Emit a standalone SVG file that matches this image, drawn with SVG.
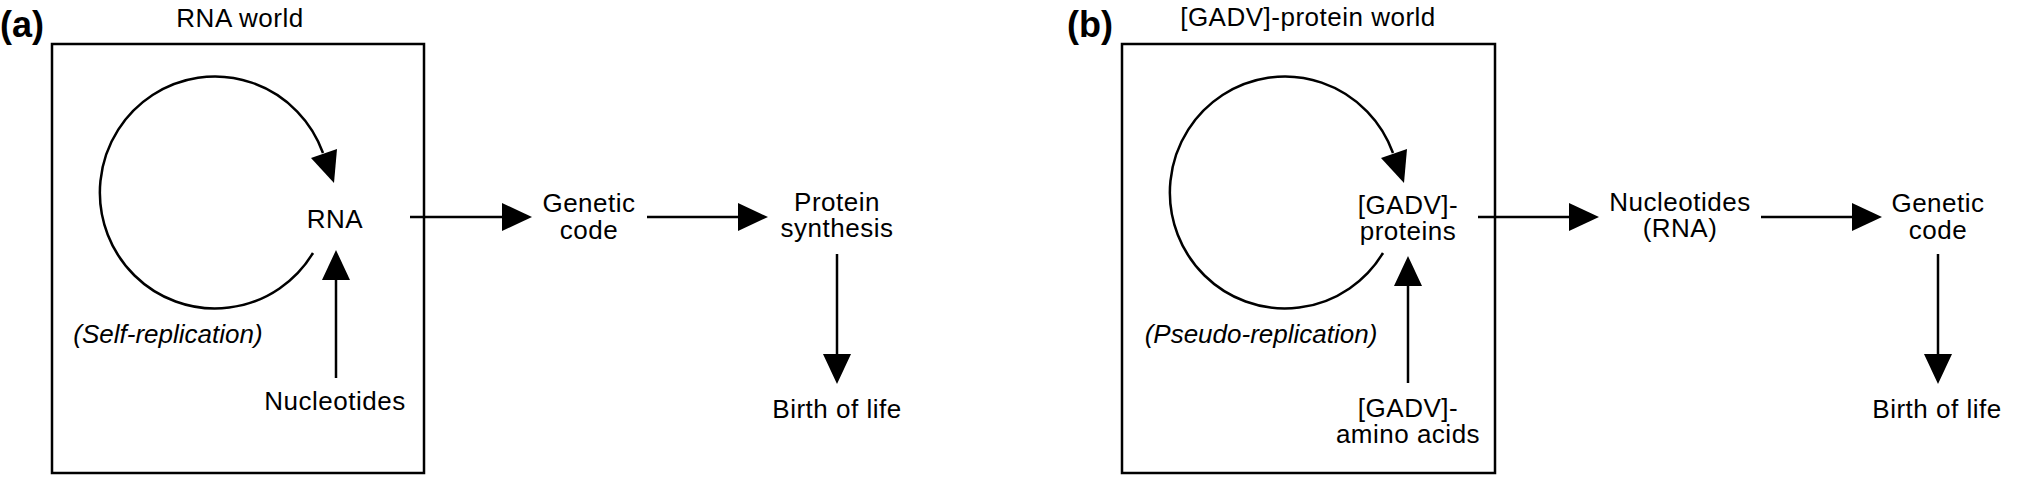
<svg xmlns="http://www.w3.org/2000/svg" width="2044" height="478" viewBox="0 0 2044 478">
<style>
text{font-family:"Liberation Sans",Arial,Helvetica,sans-serif;font-size:26px;fill:#000;text-anchor:middle;letter-spacing:0.5px}
.lbl{font-weight:bold;font-size:36px;text-anchor:start;letter-spacing:0}
.it{font-style:italic;letter-spacing:0}
.box{fill:none;stroke:#000;stroke-width:2.5}
.ln{fill:none;stroke:#000;stroke-width:2.5}
.hd{fill:#000;stroke:none}
</style>
<defs>
<marker id="ah" markerUnits="userSpaceOnUse" markerWidth="32" markerHeight="28" refX="0" refY="14" orient="auto" viewBox="0 0 32 28">
<path d="M0,0 L30,14 L0,28 z" fill="#000"/>
</marker>
</defs>
<rect width="2044" height="478" fill="#fff"/>

<g id="panel-a">
<text class="lbl" x="0" y="37">(a)</text>
<g id="rna-world"><rect class="box" x="52" y="44" width="372" height="429"/><text x="240" y="27">RNA world</text></g>
<g id="rna"><text x="335" y="228">RNA</text></g>
<g id="self-replication"><text class="it" x="168" y="343">(Self-replication)</text></g>
<g id="nucleotides-a"><text x="335" y="410">Nucleotides</text></g>
<g id="genetic-code-a"><text x="589" y="212">Genetic</text><text x="589" y="239">code</text></g>
<g id="protein-synthesis"><text x="837" y="211">Protein</text><text x="837" y="237">synthesis</text></g>
<g id="birth-a"><text x="837" y="418">Birth of life</text></g>
</g>

<g id="panel-b">
<text class="lbl" x="1067" y="37">(b)</text>
<g id="gadv-world"><rect class="box" x="1122" y="44" width="373" height="429"/><text x="1308" y="26">[GADV]-protein world</text></g>
<g id="gadv-proteins"><text x="1408" y="214">[GADV]-</text><text x="1408" y="240">proteins</text></g>
<g id="pseudo-replication"><text class="it" x="1261" y="343">(Pseudo-replication)</text></g>
<g id="gadv-amino-acids"><text x="1408" y="417">[GADV]-</text><text x="1408" y="443">amino acids</text></g>
<g id="nucleotides-rna"><text x="1680" y="211">Nucleotides</text><text x="1680" y="237">(RNA)</text></g>
<g id="genetic-code-b"><text x="1938" y="212">Genetic</text><text x="1938" y="239">code</text></g>
<g id="birth-b"><text x="1937" y="418">Birth of life</text></g>
</g>

<g id="connectors">
<path class="ln" d="M313,253 A115,116 0 1 1 323,153"/>
<polygon class="hd" points="334,183 311,158 337,149"/>
<path class="ln" d="M336,378 L336,280" marker-end="url(#ah)"/>
<path class="ln" d="M410,217 L502,217" marker-end="url(#ah)"/>
<path class="ln" d="M647,217 L738,217" marker-end="url(#ah)"/>
<path class="ln" d="M837,254 L837,354" marker-end="url(#ah)"/>

<path class="ln" d="M1383,253 A115,116 0 1 1 1393,153"/>
<polygon class="hd" points="1404,183 1381,158 1407,149"/>
<path class="ln" d="M1408,383 L1408,286" marker-end="url(#ah)"/>
<path class="ln" d="M1478,217 L1569,217" marker-end="url(#ah)"/>
<path class="ln" d="M1761,217 L1852,217" marker-end="url(#ah)"/>
<path class="ln" d="M1938,254 L1938,354" marker-end="url(#ah)"/>
</g>
</svg>
